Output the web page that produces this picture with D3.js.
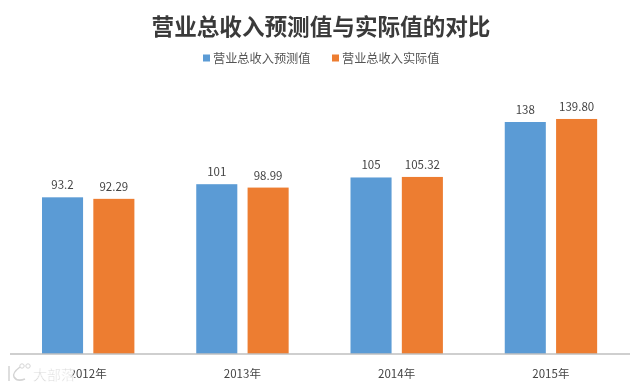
<!DOCTYPE html>
<html>
<head>
<meta charset="utf-8">
<script src="https://cdn.jsdelivr.net/npm/d3@7"></script>
<style>
  html, body { margin: 0; padding: 0; background: #fff; }
  text { font-family: "Noto Sans CJK SC", sans-serif; }
  svg { display: block; filter: blur(0.5px); }
</style>
</head>
<body>
<script>
const years = ['2012年', '2013年', '2014年', '2015年'];
const seriesNames = ['营业总收入预测值', '营业总收入实际值'];
const forecast = [93.2, 101, 105, 138];
const actual = [92.29, 98.99, 105.32, 139.8];
const forecastLabels = ['93.2', '101', '105', '138'];
const actualLabels = ['92.29', '98.99', '105.32', '139.80'];
const title = '营业总收入预测值与实际值的对比';
const watermark = '大部落';
const colors = ['#5b9bd5', '#ed7d31'];

const width = 640;
const height = 387;
const baseline = 354;

const svg = d3.select('body').append('svg')
  .attr('width', width)
  .attr('height', height)
  .attr('viewBox', [0, 0, width, height]);

const x0 = d3.scaleBand().domain(years).range([11, 628]);
const x1 = d3.scaleBand().domain(d3.range(2)).range([31, 123.4]).paddingInner(0.2);
const y = d3.scaleLinear().domain([0, 138]).range([baseline, 122]);

svg.append('text')
  .attr('x', 321)
  .attr('y', 35)
  .attr('text-anchor', 'middle')
  .attr('font-size', 22.6)
  .attr('font-weight', 700)
  .attr('fill', '#3a3a3a')
  .text(title);

// legend
const legendX = [203, 332];
const legend = svg.append('g')
  .selectAll('g')
  .data(seriesNames)
  .join('g')
  .attr('transform', (d, i) => `translate(${legendX[i]},58)`);
legend.append('rect')
  .attr('y', -3.5)
  .attr('width', 7)
  .attr('height', 7)
  .attr('fill', (d, i) => colors[i]);
legend.append('text')
  .attr('x', 10)
  .attr('y', 4.5)
  .attr('font-size', 12.2)
  .attr('fill', '#555')
  .text(d => d);

// bars
const series = [forecast, actual];
const labels = [forecastLabels, actualLabels];
series.forEach((values, s) => {
  const g = svg.append('g');
  g.selectAll('rect')
    .data(values)
    .join('rect')
    .attr('x', (d, i) => x0(years[i]) + x1(s))
    .attr('y', d => y(d))
    .attr('width', x1.bandwidth())
    .attr('height', d => baseline - y(d))
    .attr('fill', colors[s]);
  g.selectAll('text')
    .data(values)
    .join('text')
    .attr('x', (d, i) => x0(years[i]) + x1(s) + x1.bandwidth() / 2)
    .attr('y', d => y(d) - 8)
    .attr('text-anchor', 'middle')
    .attr('font-size', 11.5)
    .attr('fill', '#444')
    .text((d, i) => labels[s][i]);
});

// category axis, the line runs a little past the bands
const xAxis = d3.axisBottom(x0).tickSize(0).tickPadding(16);
svg.append('g')
  .attr('transform', `translate(0,${baseline})`)
  .call(xAxis)
  .call(g => g.select('.domain').remove())
  .call(g => g.append('line')
    .attr('x1', 10)
    .attr('x2', 630)
    .attr('stroke', '#bfbfbf')
    .attr('stroke-width', 1.5))
  .call(g => g.selectAll('.tick text')
    .attr('font-family', '"Noto Sans CJK SC", sans-serif')
    .attr('font-size', 11.5)
    .attr('fill', '#444'));

// faint site watermark over the first year label
const mark = svg.append('g').attr('fill', 'none').attr('stroke', '#d4d4d4');
mark.append('path')
  .attr('d', 'M9 366V381M20 367Q12 373 14 377Q17 382 25 379')
  .attr('stroke-width', 1.5);
mark.append('circle').attr('cx', 22).attr('cy', 366).attr('r', 2.2);
mark.append('circle').attr('cx', 28).attr('cy', 366).attr('r', 2.2);
svg.append('text')
  .attr('x', 33)
  .attr('y', 380)
  .attr('font-size', 14)
  .attr('fill', '#d4d4d4')
  .attr('stroke', '#fff')
  .attr('stroke-width', 0.5)
  .text(watermark);
</script>
</body>
</html>
